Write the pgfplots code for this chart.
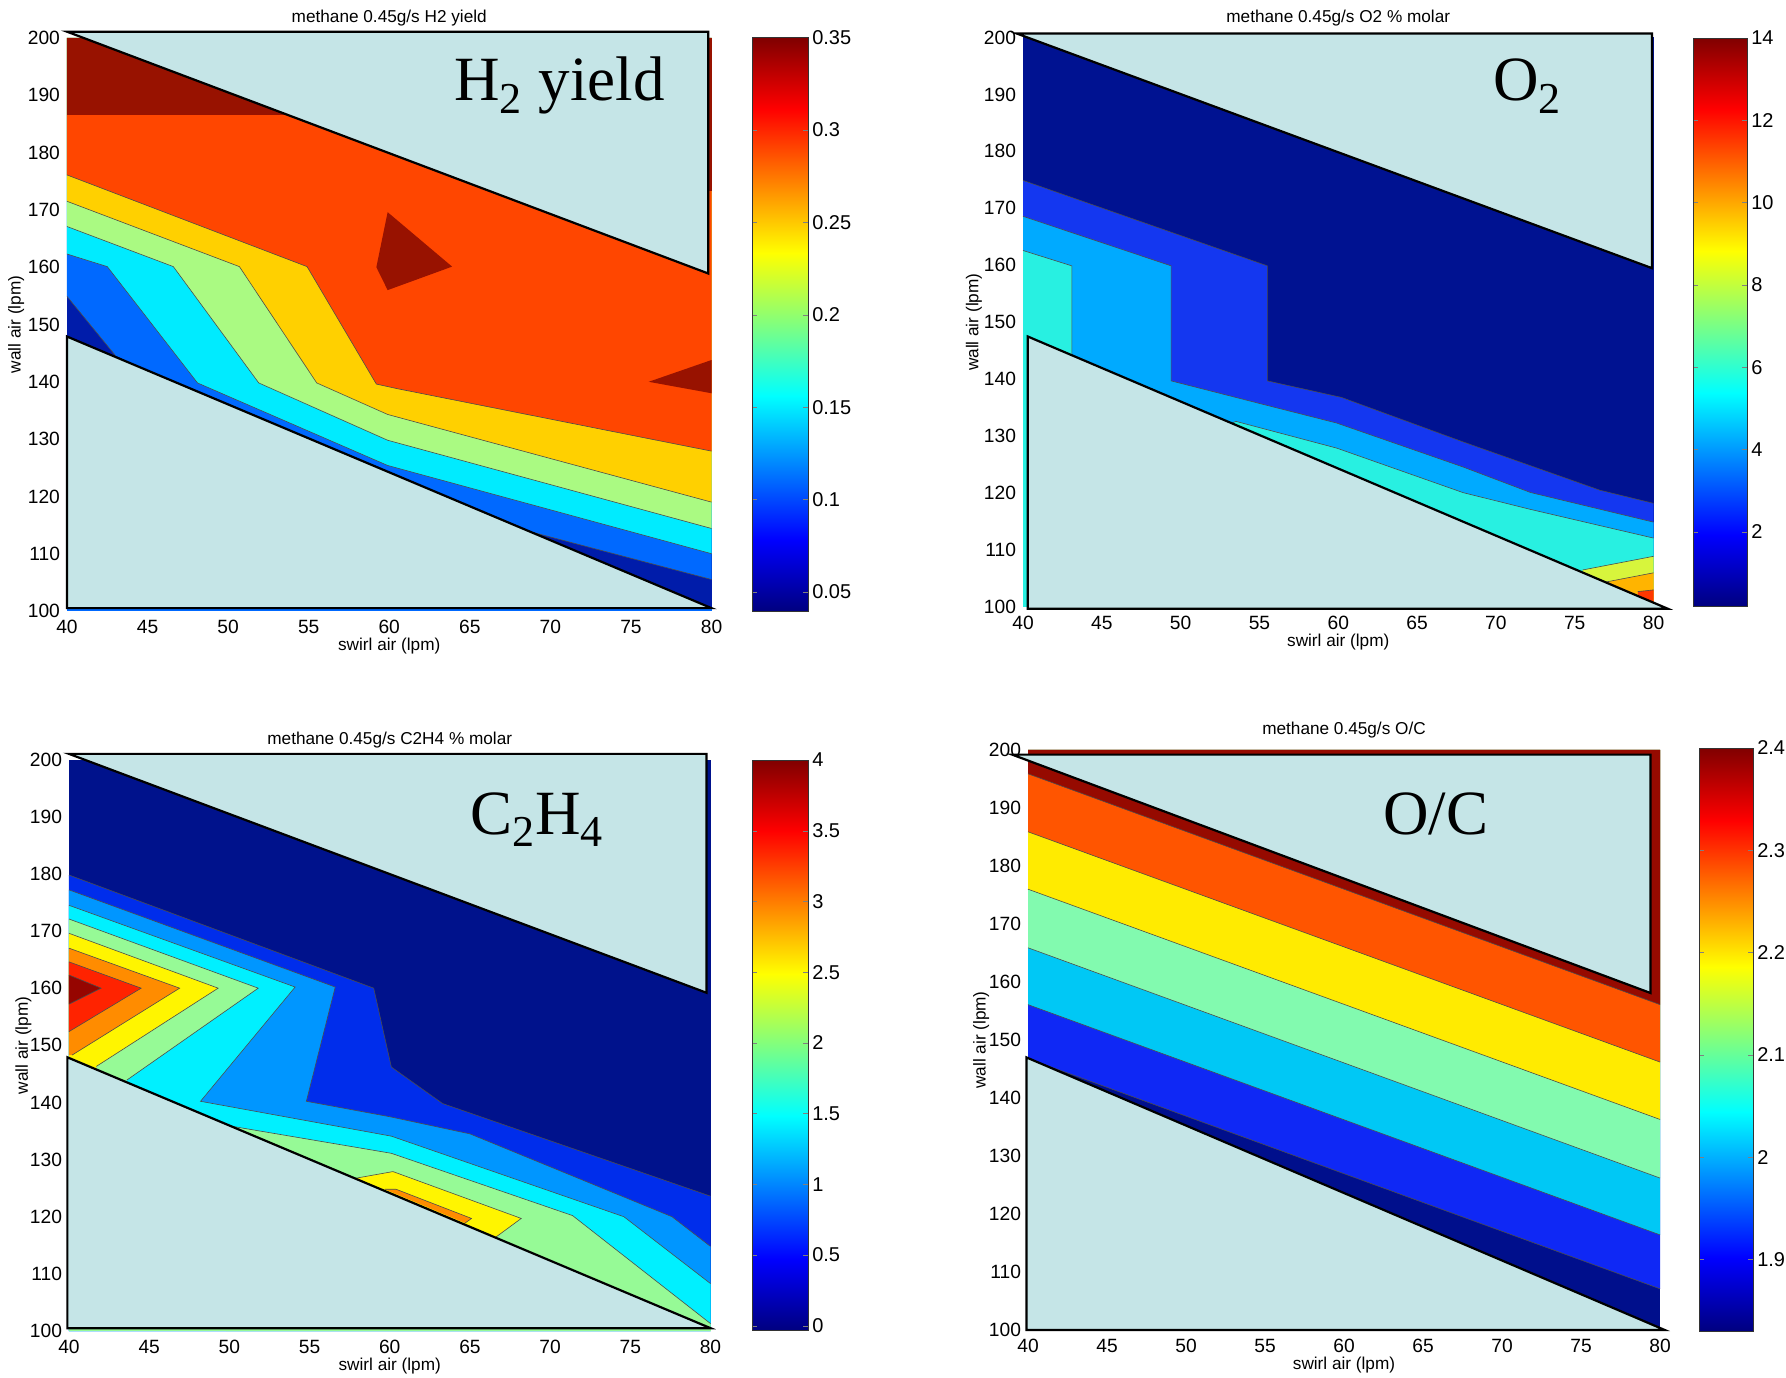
\documentclass[border=0pt]{standalone}
\usepackage{fontspec}
\setmainfont{Liberation Sans}
\newfontfamily\timesf{Liberation Serif}
\usepackage{pgfplots}
\pgfplotsset{compat=1.18}

\definecolor{maskc}{RGB}{197,229,231}
% panel A (H2 yield)
\definecolor{dbA}{RGB}{0,28,170}
\definecolor{blA}{RGB}{0,105,255}
\definecolor{cyA}{RGB}{0,235,255}
\definecolor{lgA}{RGB}{170,250,130}
\definecolor{gdA}{RGB}{255,208,0}
\definecolor{orA}{RGB}{255,70,0}
\definecolor{drA}{RGB}{152,18,0}
% panel B (O2)
\definecolor{nvB}{RGB}{0,18,145}
\definecolor{blB}{RGB}{20,55,240}
\definecolor{mbB}{RGB}{0,170,255}
\definecolor{tqB}{RGB}{40,240,225}
\definecolor{ygB}{RGB}{215,245,60}
\definecolor{orB}{RGB}{255,180,0}
\definecolor{rdB}{RGB}{255,55,0}
% panel C (C2H4)
\definecolor{nvC}{RGB}{0,18,140}
\definecolor{blC}{RGB}{0,45,235}
\definecolor{mbC}{RGB}{0,150,255}
\definecolor{cyC}{RGB}{0,240,255}
\definecolor{grC}{RGB}{150,250,150}
\definecolor{ylC}{RGB}{255,245,0}
\definecolor{orC}{RGB}{255,140,0}
\definecolor{rdC}{RGB}{255,35,0}
\definecolor{drC}{RGB}{150,5,0}
% panel D (O/C)
\definecolor{nvD}{RGB}{0,15,140}
\definecolor{blD}{RGB}{15,40,245}
\definecolor{skD}{RGB}{0,200,245}
\definecolor{mtD}{RGB}{130,250,175}
\definecolor{ylD}{RGB}{255,235,0}
\definecolor{orD}{RGB}{255,85,0}
\definecolor{drD}{RGB}{150,10,0}

\pgfplotsset{
  cf/.style={draw=none, fill=#1},
  cl/.style={draw=black!70, line width=0.3pt},
  mk/.style={fill=maskc, draw=black, line width=1.1pt, line join=miter},
  mainax/.style={
    scale only axis, anchor=south west,
    xmin=40, xmax=80, ymin=100, ymax=200, clip=false,
    xtick={40,45,50,55,60,65,70,75,80},
    ytick={100,110,120,130,140,150,160,170,180,190,200},
    major tick length=0pt, tick style={draw=none},
    separate axis lines, axis line style={draw=none},
    /pgf/number format/assume math mode=true,
    tick label style={font=\fontsize{9.6}{11}\selectfont},
    xticklabel style={yshift=-1pt},
    xlabel={swirl air (lpm)}, ylabel={wall air (lpm)},
    label style={font=\fontsize{8.6}{10}\selectfont},
    xlabel style={at={(axis description cs:0.5,0)}, anchor=center, yshift=-17.75pt},
    every axis title/.style={at={(axis description cs:0.5,1)}, anchor=center, yshift=9.75pt, font=\fontsize{8.6}{10}\selectfont},
  },
  cbar/.style={
    scale only axis, anchor=south west,
    xmin=0, xmax=1, xtick=\empty,
    yticklabel pos=right, tick align=inside, major tick length=2.5pt,
    axis on top, colormap/jet,
    /pgf/number format/assume math mode=true,
    tick label style={font=\fontsize{10}{12}\selectfont},
    yticklabel style={xshift=-1.4pt},
    axis line style={black!80, line width=0.4pt},
  },
}

\begin{document}
\begin{tikzpicture}
\useasboundingbox (0,0) rectangle (893pt,688.5pt);

% ================= Panel A: H2 yield =================
\begin{axis}[mainax, at={(33.5pt,383pt)}, width=322.25pt, height=286.5pt,
  title={methane 0.45g/s H2 yield},
  ylabel style={at={(axis description cs:-0.079,0.5)}, anchor=center}]
\addplot[cf=dbA] coordinates {(40,100) (80,100) (80,200) (40,200)};
\addplot[cf=blA] coordinates {(40,154.9) (43,144.6) (55,128) (68,114.4) (80,105.5) (80,200) (40,200)};
\addplot[cf=cyA] coordinates {(40,162.3) (42.5,160.1) (48.1,139.8) (59.9,125.4) (80,110) (80,200) (40,200)};
\addplot[cf=lgA] coordinates {(40,167.1) (46.6,160.1) (51.9,139.8) (59.9,129.8) (80,114.4) (80,200) (40,200)};
\addplot[cf=gdA] coordinates {(40,171.5) (50.7,160.1) (55.5,139.8) (59.9,134.3) (80,119) (80,200) (40,200)};
\addplot[cf=orA] coordinates {(40,176.1) (54.9,160.1) (59.2,139.6) (60.5,138.8) (80,127.9) (80,200) (40,200)};
\addplot[cf=drA] coordinates {(40,186.6) (55,186.6) (55,200) (40,200)};
\addplot[cf=drA] coordinates {(59.9,169.6) (63.9,160.1) (59.9,156) (59.2,160)};
\addplot[cf=drA] coordinates {(76.1,140) (80,143.8) (80,138)};
\addplot[cf=drA] coordinates {(79,173.3) (80,173.3) (80,200) (79,200)};
\addplot[cf=blA] coordinates {(40,100) (80,100) (80,100.5) (40,100.5)};
\addplot[cl] coordinates {(40,154.9) (43,144.6)};
\addplot[cl] coordinates {(68,114.4) (80,105.5)};
\addplot[cl] coordinates {(40,162.3) (42.5,160.1) (48.1,139.8) (59.9,125.4) (80,110)};
\addplot[cl] coordinates {(40,167.1) (46.6,160.1) (51.9,139.8) (59.9,129.8) (80,114.4)};
\addplot[cl] coordinates {(40,171.5) (50.7,160.1) (55.5,139.8) (59.9,134.3) (80,119)};
\addplot[cl] coordinates {(40,176.1) (54.9,160.1) (59.2,139.6) (60.5,138.8) (80,127.9)};
\addplot[mk] coordinates {(40,201.1) (79.8,201.1) (79.8,158.9)} -- cycle;
\addplot[mk] coordinates {(40,147.9) (80,100.5) (40,100.5)} -- cycle;
\end{axis}
\begin{axis}[cbar, at={(376pt,382.75pt)}, width=28pt, height=286.9pt,
  ymin=0.0394, ymax=0.35,
  ytick={0.05,0.1,0.15,0.2,0.25,0.3,0.35},
  yticklabels={0.05,0.1,0.15,0.2,0.25,0.3,0.35}]
\addplot[surf, shader=interp, point meta=y, mesh/cols=2] coordinates {
(0,0.0394) (1,0.0394) (0,0.078225) (1,0.078225) (0,0.11705) (1,0.11705)
(0,0.155875) (1,0.155875) (0,0.1947) (1,0.1947) (0,0.233525) (1,0.233525)
(0,0.27235) (1,0.27235) (0,0.311175) (1,0.311175) (0,0.35) (1,0.35)};
\end{axis}

% ================= Panel B: O2 =================
\begin{axis}[mainax, at={(511.5pt,385pt)}, width=315.25pt, height=284.75pt,
  title={methane 0.45g/s O2 \% molar},
  ylabel style={at={(axis description cs:-0.078,0.5)}, anchor=center}]
\addplot[cf=nvB] coordinates {(40,100) (80,100) (80,200) (40,200)};
\addplot[cf=blB] coordinates {(40,174.9) (55.5,159.9) (55.5,139.7) (60.2,136.8) (67.9,129) (76.6,120.5) (80,118.2) (80,100) (40,100)};
\addplot[cf=mbB] coordinates {(40,168.6) (49.4,159.9) (49.4,139.7) (55.2,135.6) (59.9,132.3) (67.9,124.6) (72.2,120.1) (80,114.9) (80,100) (40,100)};
\addplot[cf=tqB] coordinates {(40,162.6) (43.1,159.9) (43.1,140) (52,131) (53.5,132.6) (59.9,127.9) (67.9,120.1) (72.1,117.2) (80,112.1) (80,100) (40,100)};
\addplot[cf=ygB] coordinates {(75.5,106.5) (80,108.9) (80,100) (75.5,100)};
\addplot[cf=orB] coordinates {(77,104.4) (80,106) (80,100) (77,100)};
\addplot[cf=rdB] coordinates {(79,102.7) (80,103) (80,100) (79,100)};
\addplot[cl] coordinates {(40,174.9) (55.5,159.9) (55.5,139.7) (60.2,136.8) (67.9,129) (76.6,120.5) (80,118.2)};
\addplot[cl] coordinates {(40,168.6) (49.4,159.9) (49.4,139.7) (55.2,135.6) (59.9,132.3) (67.9,124.6) (72.2,120.1) (80,114.9)};
\addplot[cl] coordinates {(40,162.6) (43.1,159.9) (43.1,144)};
\addplot[cl] coordinates {(53,131.9) (53.5,132.6) (59.9,127.9) (67.9,120.1) (72.1,117.2) (80,112.1)};
\addplot[cl] coordinates {(75.5,106.5) (80,108.9)};
\addplot[cl] coordinates {(77,104.4) (80,106)};
\addplot[cl] coordinates {(79,102.7) (80,103)};
\addplot[mk] coordinates {(39.6,200.7) (79.9,200.7) (79.9,159.5)} -- cycle;
\addplot[mk] coordinates {(40.3,147.5) (80.9,99.7) (40.3,99.7)} -- cycle;
\end{axis}
\begin{axis}[cbar, at={(846.5pt,385.5pt)}, width=27pt, height=284pt,
  ymin=0.2, ymax=14,
  ytick={2,4,6,8,10,12,14},
  yticklabels={2,4,6,8,10,12,14}]
\addplot[surf, shader=interp, point meta=y, mesh/cols=2] coordinates {
(0,0.2) (1,0.2) (0,1.925) (1,1.925) (0,3.65) (1,3.65)
(0,5.375) (1,5.375) (0,7.1) (1,7.1) (0,8.825) (1,8.825)
(0,10.55) (1,10.55) (0,12.275) (1,12.275) (0,14) (1,14)};
\end{axis}

% ================= Panel C: C2H4 =================
\begin{axis}[mainax, at={(34.5pt,23pt)}, width=320.75pt, height=285.7pt,
  title={methane 0.45g/s C2H4 \% molar},
  ylabel style={at={(axis description cs:-0.071,0.5)}, anchor=center}]
\addplot[cf=nvC] coordinates {(40,100) (80,100) (80,200) (40,200)};
\addplot[cf=blC] coordinates {(40,179.8) (59,160) (60.1,146.2) (63.3,139.8) (80,123.6) (80,100) (40,100)};
\addplot[cf=mbC] coordinates {(40,177.2) (56.6,160.2) (54.8,140.2) (60,137.5) (65,134.5) (77.6,120) (80,114.8) (80,100) (40,100)};
\addplot[cf=cyC] coordinates {(40,174.5) (54.1,160.2) (48.2,140.2) (60.1,134.1) (74.6,120) (80,108.3) (80,100) (40,100)};
\addplot[cf=grC] coordinates {(40,172.1) (51.8,160) (43.6,143.9) (43.6,140) (40,140)};
\addplot[cf=grC] coordinates {(49.8,136) (60.1,131.1) (71.4,120.2) (80,101.3) (80,100) (49.8,100)};
\addplot[cf=grC] coordinates {(40,100) (80,100) (80,100.5) (40,100.5)};
\addplot[cf=ylC] coordinates {(40,169.6) (49.3,160) (41.7,146.3) (41.7,140) (40,140)};
\addplot[cf=ylC] coordinates {(57.8,126.7) (60.2,127.9) (68.2,119.7) (66.6,116.4) (62,115)};
\addplot[cf=orC] coordinates {(40,167) (46.9,160) (40.2,148.3) (40,148.3)};
\addplot[cf=orC] coordinates {(59.7,124.8) (60.4,124.8) (65.1,119.7) (64.7,118.9)};
\addplot[cf=rdC] coordinates {(40,164.6) (44.5,160) (40,152.4)};
\addplot[cf=drC] coordinates {(40,162.3) (42,160) (40,157.2)};
\addplot[cl] coordinates {(40,179.8) (59,160) (60.1,146.2) (63.3,139.8) (80,123.6)};
\addplot[cl] coordinates {(40,177.2) (56.6,160.2) (54.8,140.2) (60,137.5) (65,134.5) (77.6,120) (80,114.8)};
\addplot[cl] coordinates {(40,174.5) (54.1,160.2) (48.2,140.2) (60.1,134.1) (74.6,120) (80,108.3)};
\addplot[cl] coordinates {(40,172.1) (51.8,160) (43.6,143.9)};
\addplot[cl] coordinates {(49.8,136) (60.1,131.1) (71.4,120.2) (80,101.3)};
\addplot[cl] coordinates {(40,169.6) (49.3,160) (41.7,146.3)};
\addplot[cl] coordinates {(57.8,126.7) (60.2,127.9) (68.2,119.7) (66.6,116.4)};
\addplot[cl] coordinates {(40,167) (46.9,160) (40.2,148.3)};
\addplot[cl] coordinates {(59.7,124.8) (60.4,124.8) (65.1,119.7) (64.7,118.9)};
\addplot[cl] coordinates {(40,164.6) (44.5,160) (40,152.4)};
\addplot[cl] coordinates {(40,162.3) (42,160) (40,157.2)};
\addplot[mk] coordinates {(40,201) (79.75,201) (79.75,159.2)} -- cycle;
\addplot[mk] coordinates {(39.9,147.9) (80,100.5) (39.9,100.5)} -- cycle;
\end{axis}
\begin{axis}[cbar, at={(376pt,23.5pt)}, width=28pt, height=285pt,
  ymin=-0.03, ymax=4,
  ytick={0,0.5,1,1.5,2,2.5,3,3.5,4},
  yticklabels={0,0.5,1,1.5,2,2.5,3,3.5,4}]
\addplot[surf, shader=interp, point meta=y, mesh/cols=2] coordinates {
(0,-0.03) (1,-0.03) (0,0.47375) (1,0.47375) (0,0.9775) (1,0.9775)
(0,1.48125) (1,1.48125) (0,1.985) (1,1.985) (0,2.48875) (1,2.48875)
(0,2.9925) (1,2.9925) (0,3.49625) (1,3.49625) (0,4) (1,4)};
\end{axis}

% ================= Panel D: O/C =================
\begin{axis}[mainax, at={(514pt,23.5pt)}, width=316pt, height=290pt,
  title={methane 0.45g/s O/C},
  ylabel style={at={(axis description cs:-0.074,0.5)}, anchor=center}]
\addplot[cf=nvD] coordinates {(40,100) (80,100) (80,200) (40,200)};
\addplot[cf=blD] coordinates {(40,146.8) (80,107.1) (80,200) (40,200)};
\addplot[cf=skD] coordinates {(40,156.1) (80,116.4) (80,200) (40,200)};
\addplot[cf=mtD] coordinates {(40,165.9) (80,126.2) (80,200) (40,200)};
\addplot[cf=ylD] coordinates {(40,176) (80,136.3) (80,200) (40,200)};
\addplot[cf=orD] coordinates {(40,185.9) (80,146.2) (80,200) (40,200)};
\addplot[cf=drD] coordinates {(40,195.9) (80,156.1) (80,200) (40,200)};
\addplot[cl] coordinates {(40,146.8) (80,107.1)};
\addplot[cl] coordinates {(40,156.1) (80,116.4)};
\addplot[cl] coordinates {(40,165.9) (80,126.2)};
\addplot[cl] coordinates {(40,176) (80,136.3)};
\addplot[cl] coordinates {(40,185.9) (80,146.2)};
\addplot[cl] coordinates {(40,195.9) (80,156.1)};
\addplot[mk] coordinates {(39,199.2) (79.4,199.2) (79.4,158.1)} -- cycle;
\addplot[mk] coordinates {(39.9,147) (80.3,100) (39.9,100)} -- cycle;
\end{axis}
\begin{axis}[cbar, at={(849.5pt,23pt)}, width=27pt, height=291.5pt,
  ymin=1.83, ymax=2.4,
  ytick={1.9,2,2.1,2.2,2.3,2.4},
  yticklabels={1.9,2,2.1,2.2,2.3,2.4}]
\addplot[surf, shader=interp, point meta=y, mesh/cols=2] coordinates {
(0,1.83) (1,1.83) (0,1.90125) (1,1.90125) (0,1.9725) (1,1.9725)
(0,2.04375) (1,2.04375) (0,2.115) (1,2.115) (0,2.18625) (1,2.18625)
(0,2.2575) (1,2.2575) (0,2.32875) (1,2.32875) (0,2.4) (1,2.4)};
\end{axis}

% big labels
\node[anchor=base west, inner sep=0pt, font=\timesf\fontsize{31.5}{32}\selectfont] at (227pt,638pt) {H\textsubscript{2} yield};
\node[anchor=base west, inner sep=0pt, font=\timesf\fontsize{31.5}{32}\selectfont] at (746.5pt,638pt) {O\textsubscript{2}};
\node[anchor=base west, inner sep=0pt, font=\timesf\fontsize{31.5}{32}\selectfont] at (235pt,271.2pt) {C\textsubscript{2}H\textsubscript{4}};
\node[anchor=base west, inner sep=0pt, font=\timesf\fontsize{31.5}{32}\selectfont] at (691.5pt,271.2pt) {O/C};
\end{tikzpicture}
\end{document}
